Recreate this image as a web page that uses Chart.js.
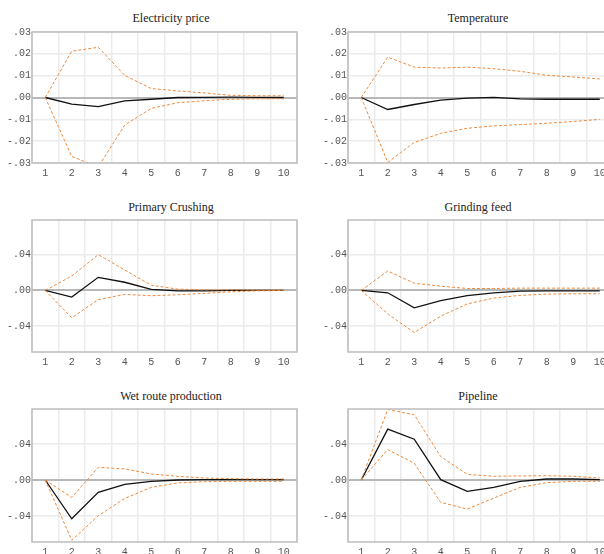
<!DOCTYPE html>
<html>
<head>
<meta charset="utf-8">
<script src="https://cdn.jsdelivr.net/npm/chart.js@4.4.1/dist/chart.umd.min.js"></script>
<style>
  html, body { margin: 0; padding: 0; background: #fff; }
  body { width: 604px; height: 554px; overflow: hidden; position: relative; }
  canvas { position: absolute; }
  .ttl { position: absolute; width: 200px; text-align: center; font: 12px "Liberation Serif", "DejaVu Serif", serif; color: #222; line-height: 14px; }
</style>
</head>
<body>
<div class="ttl" style="left:71px;top:11px">Electricity price</div>
<div class="ttl" style="left:378px;top:11px">Temperature</div>
<div class="ttl" style="left:71px;top:200px">Primary Crushing</div>
<div class="ttl" style="left:378px;top:200px">Grinding feed</div>
<div class="ttl" style="left:71px;top:389px">Wet route production</div>
<div class="ttl" style="left:378px;top:389px">Pipeline</div>

<canvas id="c1" width="300" height="158" style="left:0px;top:25px"></canvas>
<canvas id="c2" width="300" height="158" style="left:316px;top:25px"></canvas>
<canvas id="c3" width="300" height="159" style="left:0px;top:213px"></canvas>
<canvas id="c4" width="300" height="159" style="left:316px;top:213px"></canvas>
<canvas id="c5" width="300" height="160" style="left:0px;top:402px"></canvas>
<canvas id="c6" width="300" height="160" style="left:316px;top:402px"></canvas>

<script>
// 期間
const periods = ["1", "2", "3", "4", "5", "6", "7", "8", "9", "10"];

// y軸目盛
const smallTicks = [-0.03, -0.02, -0.01, 0, 0.01, 0.02, 0.03];
const smallTickLabels = ["-.03", "-.02", "-.01", ".00", ".01", ".02", ".03"];
const bigTicks = [-0.04, 0, 0.04];
const bigTickLabels = ["-.04", ".00", ".04"];

// Electricity price
const elecMean  = [0, -0.0030, -0.0042, -0.0015, -0.0008, 0.0000, 0.0001, 0.0002, 0.0001, 0.0000];
const elecUpper = [0, 0.0212, 0.0230, 0.0101, 0.0041, 0.0030, 0.0021, 0.0010, 0.0008, 0.0008];
const elecLower = [0, -0.0270, -0.0318, -0.0126, -0.0050, -0.0024, -0.0015, -0.0008, -0.0006, -0.0006];

// Temperature
const tempMean  = [0, -0.0055, -0.0032, -0.0012, -0.0003, 0.0001, -0.0006, -0.0008, -0.0008, -0.0008];
const tempUpper = [0, 0.0185, 0.0139, 0.0135, 0.0139, 0.0132, 0.0120, 0.0102, 0.0094, 0.0085];
const tempLower = [0, -0.0297, -0.0206, -0.0164, -0.0141, -0.0130, -0.0124, -0.0118, -0.0110, -0.0100];

// Primary Crushing
const crushMean  = [0, -0.0074, 0.0147, 0.0092, 0.0011, -0.0004, -0.0004, 0.0000, 0.0000, 0.0000];
const crushUpper = [0, 0.0162, 0.0402, 0.0229, 0.0059, 0.0015, 0.0007, 0.0007, 0.0004, 0.0004];
const crushLower = [0, -0.0306, -0.0103, -0.0044, -0.0059, -0.0048, -0.0033, -0.0015, -0.0004, 0.0000];

// Grinding feed
const grindMean  = [0, -0.0026, -0.0195, -0.0114, -0.0059, -0.0026, -0.0007, -0.0004, -0.0004, -0.0004];
const grindUpper = [0, 0.0218, 0.0081, 0.0048, 0.0022, 0.0022, 0.0026, 0.0026, 0.0026, 0.0026];
const grindLower = [0, -0.0262, -0.0472, -0.0288, -0.0151, -0.0085, -0.0055, -0.0041, -0.0037, -0.0037];

// Wet route production
const wetMean  = [0, -0.0432, -0.0138, -0.0048, -0.0015, 0.0000, 0.0004, 0.0004, 0.0004, 0.0004];
const wetUpper = [0, -0.0194, 0.0141, 0.0123, 0.0067, 0.0041, 0.0022, 0.0015, 0.0011, 0.0011];
const wetLower = [0, -0.0670, -0.0398, -0.0205, -0.0082, -0.0033, -0.0019, -0.0015, -0.0015, -0.0015];

// Pipeline
const pipeMean  = [0, 0.0566, 0.0454, 0.0004, -0.0127, -0.0082, -0.0015, 0.0011, 0.0011, 0.0004];
const pipeUpper = [0, 0.0785, 0.0726, 0.0260, 0.0063, 0.0041, 0.0045, 0.0048, 0.0041, 0.0022];
const pipeLower = [0, 0.0339, 0.0186, -0.0249, -0.0324, -0.0201, -0.0082, -0.0030, -0.0015, -0.0015];

const orange = "#ee8a3c";
const tickFont = { family: "'Liberation Mono', 'DejaVu Sans Mono', monospace", size: 10 };

// 枠線を描くプラグイン
const framePlugin = {
  id: "frame",
  afterDraw(chart) {
    const a = chart.chartArea;
    const ctx = chart.ctx;
    ctx.save();
    ctx.strokeStyle = "#bdbdbd";
    ctx.lineWidth = 1.5;
    ctx.strokeRect(a.left, a.top, a.right - a.left, a.bottom - a.top);
    ctx.restore();
  }
};

function makeChart(id, mean, upper, lower, yMin, yMax, tickVals, tickLabels) {
  const ctx = document.getElementById(id).getContext("2d");
  return new Chart(ctx, {
    type: "line",
    data: {
      labels: periods,
      datasets: [
        { data: upper, borderColor: orange, borderWidth: 1, borderDash: [3, 2], pointRadius: 0, tension: 0 },
        { data: lower, borderColor: orange, borderWidth: 1, borderDash: [3, 2], pointRadius: 0, tension: 0 },
        { data: mean, borderColor: "#111", borderWidth: 1.3, pointRadius: 0, tension: 0 }
      ]
    },
    options: {
      responsive: false,
      animation: false,
      layout: { padding: { left: 0, right: 3, top: 0, bottom: 0 } },
      plugins: { legend: { display: false }, tooltip: { enabled: false } },
      scales: {
        x: {
          offset: true,
          grid: { offset: true, color: "#ebebeb", lineWidth: 1.5, drawTicks: false },
          border: { display: false },
          ticks: { font: tickFont, color: "#555", padding: 4, maxRotation: 0, autoSkip: false },
          afterFit: s => { s.height = 20; }
        },
        y: {
          min: yMin,
          max: yMax,
          grid: {
            drawTicks: false,
            color: c => (c.tick && c.tick.value === 0 ? "#b8b8b8" : "#ebebeb"),
            lineWidth: c => (c.tick && c.tick.value === 0 ? 2 : 1.5)
          },
          border: { display: false },
          afterBuildTicks: s => { s.ticks = tickVals.map(v => ({ value: v })); },
          ticks: {
            font: tickFont,
            color: "#555",
            padding: 1,
            callback: v => {
              const i = tickVals.findIndex(t => Math.abs(t - v) < 1e-9);
              return i >= 0 ? tickLabels[i] : "";
            }
          },
          afterFit: s => { s.width = 32; }
        }
      }
    },
    plugins: [framePlugin]
  });
}

window.onload = function() {
  makeChart("c1", elecMean, elecUpper, elecLower, -0.03, 0.03, smallTicks, smallTickLabels);
  makeChart("c2", tempMean, tempUpper, tempLower, -0.03, 0.03, smallTicks, smallTickLabels);
  makeChart("c3", crushMean, crushUpper, crushLower, -0.069, 0.079, bigTicks, bigTickLabels);
  makeChart("c4", grindMean, grindUpper, grindLower, -0.069, 0.079, bigTicks, bigTickLabels);
  makeChart("c5", wetMean, wetUpper, wetLower, -0.069, 0.079, bigTicks, bigTickLabels);
  makeChart("c6", pipeMean, pipeUpper, pipeLower, -0.069, 0.079, bigTicks, bigTickLabels);
};
</script>
</body>
</html>
